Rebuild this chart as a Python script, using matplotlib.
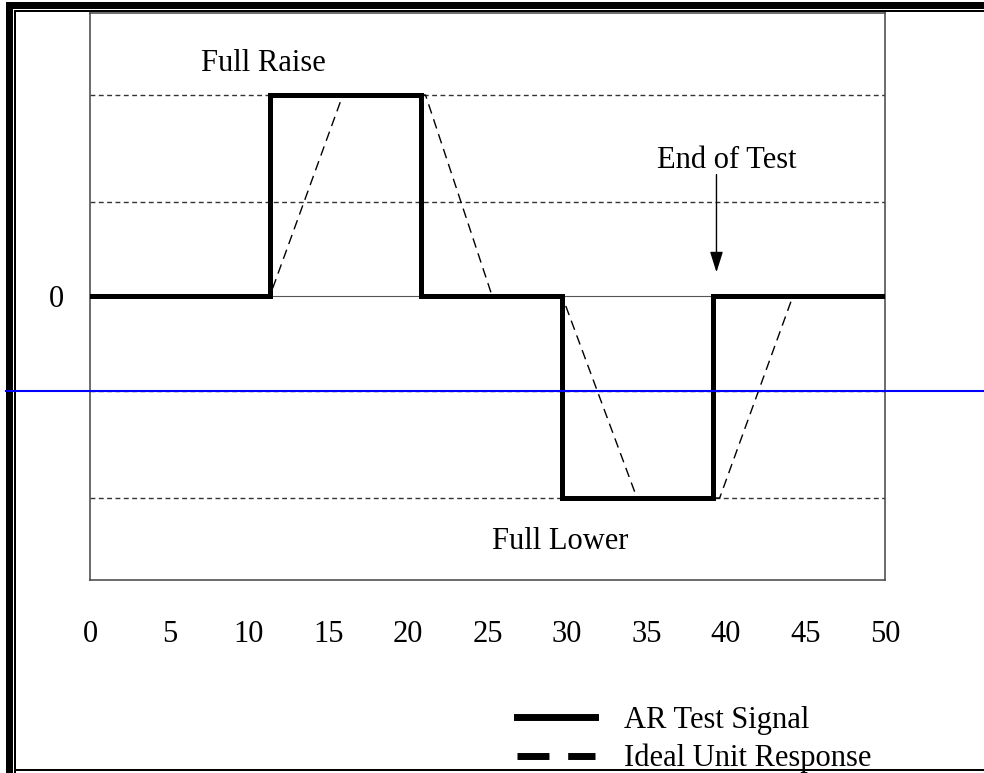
import matplotlib.pyplot as plt
import matplotlib.transforms as mtransforms
from matplotlib.lines import Line2D
from matplotlib.patches import Rectangle

plt.rcParams['font.family'] = ['Liberation Serif', 'DejaVu Serif']

# AR test signal (step changes) and ideal unit response (ramps)
signal_x = [0, 11.3, 11.3, 20.8, 20.8, 29.7, 29.7, 39.2, 39.2, 49.8]
signal_y = [0, 0, 2, 2, 0, 0, -2, -2, 0, 0]
response_x = [0, 11.3, 15.9, 21.1, 25.3, 29.7, 34.4, 39.6, 44.2, 49.8]
response_y = [0, 0, 2, 2, 0, 0, -2, -2, 0, 0]

grid_levels = [2.0, 0.94, -0.94, -2.0]
x_ticks = [0, 5, 10, 15, 20, 25, 30, 35, 40, 45, 50]
blue_level = -0.94

fig = plt.figure(figsize=(9.84, 7.73), dpi=100)
ax = fig.add_axes([0.0915, 0.2497, 0.8079, 0.7335])
ax.set_xlim(0, 50)
ax.set_ylim(-2.814, 2.814)

for lvl in grid_levels:
    ax.axhline(lvl, color='#333333', lw=1.0, ls=(0, (3.5, 2.5)), zorder=1)
ax.axhline(0, color='#555555', lw=0.8, zorder=1)

ax.plot(response_x, response_y, color='black', lw=1.0, ls=(0, (7, 4.3)), zorder=2)
ax.plot(signal_x, signal_y, color='black', lw=3.6, solid_joinstyle='miter', zorder=3)

ax.text(10.9, 2.31, 'Full Raise', fontsize=22, ha='center', va='center')
ax.text(29.56, -2.43, 'Full Lower', fontsize=22, ha='center', va='center')
ax.text(40.06, 1.35, 'End of Test', fontsize=22, ha='center', va='center')
ax.annotate('', xy=(39.4, 0.24), xytext=(39.4, 1.21),
            arrowprops=dict(arrowstyle='-|>,head_length=0.7,head_width=0.22',
                            color='black', lw=1.0,
                            mutation_scale=18, shrinkA=0, shrinkB=0))

ax.set_xticks(x_ticks)
ax.set_xticklabels([str(t) for t in x_ticks], fontsize=22)
ax.set_yticks([0])
ax.set_yticklabels(['0'], fontsize=22)
ax.tick_params(axis='x', length=0, pad=29)
ax.tick_params(axis='y', length=0, pad=19)
for sp in ax.spines.values():
    sp.set_color('#444444')
    sp.set_linewidth(1.1)

# blue horizontal rule across the whole page
trans = mtransforms.blended_transform_factory(fig.transFigure, ax.transData)
fig.add_artist(Line2D([6 / 984, 1], [blue_level, blue_level], transform=trans,
                      color='#0000ff', lw=1.5, zorder=10))

# legend
handles = [Line2D([], [], color='black', lw=5.0),
           Line2D([], [], color='black', lw=5.0, ls=(0, (4.6, 2.7)))]
fig.legend(handles, ['AR Test Signal', 'Ideal Unit Response'], loc='upper left',
           bbox_to_anchor=(0.525, 0.087), frameon=False, fontsize=22,
           handlelength=2.55, handletextpad=0.95, labelspacing=0.3,
           borderpad=0, borderaxespad=0)

# page border
W, H = 984, 773
def px_rect(x0, y0, x1, y1):
    fig.add_artist(Rectangle((x0 / W, 1 - y1 / H), (x1 - x0) / W, (y1 - y0) / H,
                             transform=fig.transFigure, color='black', lw=0))

px_rect(6, 2, W, 9)
px_rect(6, 2, 13, H)
px_rect(14, 10, W, 11.5)
px_rect(14, 10, 15.5, H)
px_rect(14, 769, W, 771)

fig.savefig('out.png', dpi=100)
